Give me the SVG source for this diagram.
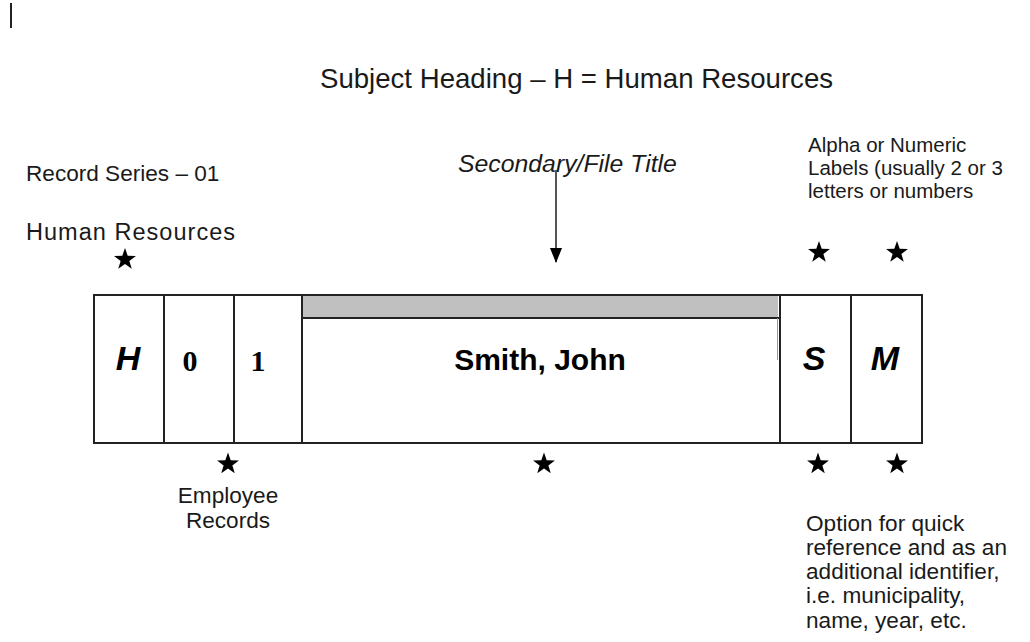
<svg xmlns="http://www.w3.org/2000/svg" width="1030" height="642" viewBox="0 0 1030 642">
<style>
text{font-family:"Liberation Sans",Arial,sans-serif;fill:#1a1a1a}
.lbl{font-size:22.6px}
.alpha{font-size:20.5px}
.cell{fill:#fff;stroke:#222;stroke-width:2}
.big{font-size:34px;font-weight:bold;font-style:italic;text-anchor:middle;fill:#000}
.dig{font-family:"Liberation Serif","Times New Roman",serif;font-size:30px;font-weight:bold;text-anchor:middle;fill:#000}
.star{fill:#000}
</style>
<defs>
<path id="star" d="M0,-11.5 L2.7,-3.72 L10.94,-3.55 L4.37,1.42 L6.76,9.3 L0,4.6 L-6.76,9.3 L-4.37,1.42 L-10.94,-3.55 L-2.7,-3.72 Z"/>
<marker id="arr" markerWidth="15" markerHeight="12" refX="14" refY="6" orient="auto" markerUnits="userSpaceOnUse" viewBox="0 0 15 12">
<path d="M0,0 L15,6 L0,12 Z" fill="#000"/>
</marker>
</defs>
<rect width="1030" height="642" fill="#fff"/>
<rect x="10" y="3" width="2" height="25" fill="#222"/>

<g id="title"><text x="320" y="88" style="font-size:27.6px">Subject Heading – H = Human Resources</text></g>
<g id="record-series"><text class="lbl" x="26" y="181">Record Series – 01</text></g>
<g id="human-resources"><text x="26" y="240" style="font-size:23.5px" textLength="209" lengthAdjust="spacing">Human Resources</text>
<use href="#star" class="star" x="125" y="259.5"/></g>
<g id="secondary-title"><text x="458" y="172" style="font-size:24.8px;font-style:italic">Secondary/File Title</text></g>
<g id="alpha-labels"><text class="alpha" x="808"><tspan x="808" y="152">Alpha or Numeric</tspan><tspan x="808" y="175">Labels (usually 2 or 3</tspan><tspan x="808" y="198">letters or numbers</tspan></text>
<use href="#star" class="star" x="819" y="252.5"/><use href="#star" class="star" x="897" y="252.5"/></g>

<g id="folder-label">
<rect class="cell" x="94" y="295" width="828" height="148"/>
<rect x="303" y="296" width="475" height="22" fill="#c0c0c0"/>
<line x1="302" y1="318" x2="779" y2="318" stroke="#222" stroke-width="2"/>
<line x1="777.5" y1="318" x2="777.5" y2="360" stroke="#999" stroke-width="1"/>
<line x1="164" y1="295" x2="164" y2="443" stroke="#222" stroke-width="2"/>
<line x1="234" y1="295" x2="234" y2="443" stroke="#222" stroke-width="2"/>
<line x1="302" y1="295" x2="302" y2="443" stroke="#222" stroke-width="2"/>
<line x1="780" y1="295" x2="780" y2="443" stroke="#222" stroke-width="2"/>
<line x1="851" y1="295" x2="851" y2="443" stroke="#222" stroke-width="2"/>
</g>
<g id="cell-h"><text class="big" x="128" y="370">H</text></g>
<g id="cell-0"><text class="dig" x="190" y="371">0</text></g>
<g id="cell-1"><text class="dig" x="258" y="371">1</text></g>
<g id="cell-name"><text x="540" y="370" style="font-size:30px;font-weight:bold;text-anchor:middle;fill:#000">Smith, John</text></g>
<g id="cell-s"><text class="big" x="814" y="370">S</text></g>
<g id="cell-m"><text class="big" x="885" y="370">M</text></g>

<g id="employee-records"><use href="#star" class="star" x="228" y="464"/>
<text class="lbl" style="text-anchor:middle"><tspan x="228" y="503">Employee</tspan><tspan x="228" y="528">Records</tspan></text></g>
<g id="name-star"><use href="#star" class="star" x="544" y="464"/></g>
<g id="option-note"><use href="#star" class="star" x="818" y="464"/><use href="#star" class="star" x="897" y="464"/>
<text class="lbl"><tspan x="806" y="531">Option for quick</tspan><tspan x="806" y="555">reference and as an</tspan><tspan x="806" y="579">additional identifier,</tspan><tspan x="806" y="603">i.e. municipality,</tspan><tspan x="806" y="628">name, year, etc.</tspan></text></g>

<g id="connectors">
<line x1="556" y1="170" x2="556" y2="262" stroke="#555" stroke-width="2" marker-end="url(#arr)"/>
</g>
</svg>
